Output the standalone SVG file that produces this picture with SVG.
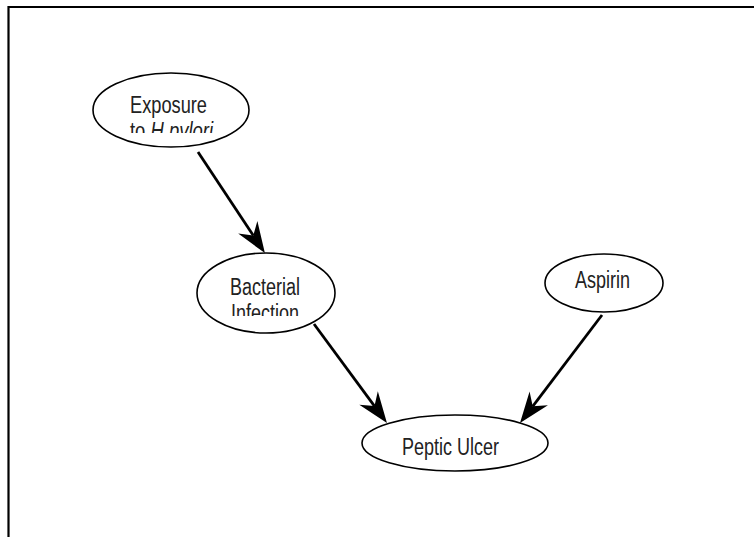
<svg xmlns="http://www.w3.org/2000/svg" width="754" height="537" viewBox="0 0 754 537">
<style>
.node{fill:#fff;stroke:#000;stroke-width:1.6}
.lbl{font-family:"Liberation Sans",Arial,sans-serif;font-size:23px;fill:#222}
.edge{stroke:#000;stroke-width:2.8;fill:none}
</style>
<defs>
<marker id="ah" markerUnits="userSpaceOnUse" viewBox="-32 -13 34 26" markerWidth="34" markerHeight="26" refX="-21" refY="0" orient="auto">
<path d="M0,0 L-31,-11.5 L-21,0 L-31,11.5 Z" fill="#000"/>
</marker>
<clipPath id="c1"><rect x="90" y="70" width="170" height="63"/></clipPath>
<clipPath id="c2"><rect x="190" y="250" width="150" height="66"/></clipPath>
</defs>
<rect width="754" height="537" fill="#fff"/>
<g id="frame" stroke="#000" stroke-width="2.2" fill="none">
<path d="M8.5,537 L8.5,7 L754,7"/>
</g>
<g id="connectors">
<line class="edge" x1="198" y1="152" x2="253.3" y2="235.6" marker-end="url(#ah)"/>
<line class="edge" x1="314" y1="324" x2="374.5" y2="406.1" marker-end="url(#ah)"/>
<line class="edge" x1="602" y1="315" x2="532.7" y2="406.3" marker-end="url(#ah)"/>
</g>
<g id="exposure">
<ellipse class="node" cx="171" cy="110" rx="78" ry="37"/>
<g clip-path="url(#c1)">
<text class="lbl" x="130" y="113" textLength="77" lengthAdjust="spacingAndGlyphs">Exposure</text>
<text class="lbl" x="130" y="139" textLength="83" lengthAdjust="spacingAndGlyphs">to <tspan font-style="italic">H.pylori</tspan></text>
</g>
</g>
<g id="bacterial">
<ellipse class="node" cx="266" cy="293" rx="69" ry="40"/>
<g clip-path="url(#c2)">
<text class="lbl" x="230" y="295" textLength="70" lengthAdjust="spacingAndGlyphs">Bacterial</text>
<text class="lbl" x="231" y="321" textLength="68" lengthAdjust="spacingAndGlyphs">Infection</text>
</g>
</g>
<g id="aspirin">
<ellipse class="node" cx="604" cy="283" rx="59" ry="29"/>
<text class="lbl" x="575" y="288" textLength="55" lengthAdjust="spacingAndGlyphs">Aspirin</text>
</g>
<g id="peptic">
<ellipse class="node" cx="455" cy="443" rx="93" ry="28"/>
<text class="lbl" x="402" y="455" textLength="97" lengthAdjust="spacingAndGlyphs">Peptic Ulcer</text>
</g>
</svg>
